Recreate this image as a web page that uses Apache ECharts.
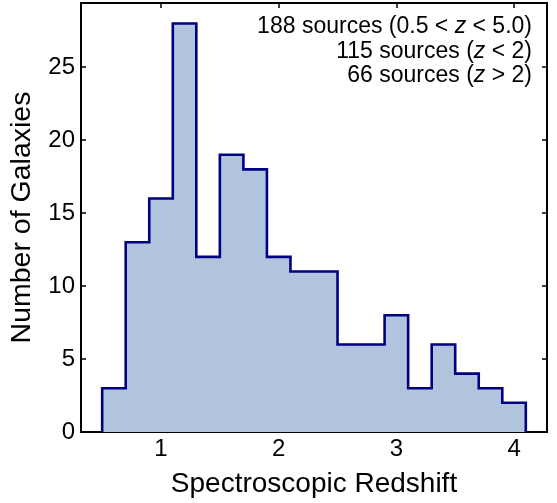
<!DOCTYPE html>
<html>
<head>
<meta charset="utf-8">
<script src="https://cdn.jsdelivr.net/npm/echarts@6/dist/echarts.min.js"></script>
<style>
  html, body { margin: 0; padding: 0; background: #fff; }
  #chart { width: 557px; height: 503px; }
</style>
</head>
<body>
<div id="chart"></div>
<script>
// Histogram bin edges (redshift) and counts per bin
var binEdges = [0.5, 0.7, 0.9, 1.1, 1.3, 1.5, 1.7, 1.9, 2.1, 2.3, 2.5, 2.7, 2.9, 3.1, 3.3, 3.5, 3.7, 3.9, 4.1];
var counts   = [3, 13, 16, 28, 12, 19, 18, 12, 11, 11, 6, 6, 8, 3, 6, 4, 3, 2];
var xTicks = [1, 2, 3, 4];
var yTicks = [0, 5, 10, 15, 20, 25];
var xRange = [0.32, 4.28];
var yRange = [0, 29.4];
var xTitle = 'Spectroscopic Redshift';
var yTitle = 'Number of Galaxies';
var noteLines = [
  '188 sources (0.5 < {i|z} < 5.0)',
  '115 sources ({i|z} < 2)',
  '66 sources ({i|z} > 2)'
];

// Build step outline points from bin edges/counts
var stepData = [[binEdges[0], 0]];
for (var i = 0; i < counts.length; i++) {
  stepData.push([binEdges[i], counts[i]]);
}
stepData.push([binEdges[binEdges.length - 1], counts[counts.length - 1]]);
stepData.push([binEdges[binEdges.length - 1], 0]);

var FONT = '"Liberation Sans", Arial, Helvetica, sans-serif';
var axisLineStyle = { color: '#000', width: 2 };
var tickCommon = { show: true, inside: true, length: 5, lineStyle: { color: '#000', width: 1.5 } };

var noteGraphics = noteLines.map(function (t, k) {
  return {
    type: 'text',
    x: 532,
    y: 27 + k * 24.5,
    z: 10,
    style: {
      text: t,
      fontFamily: FONT,
      fontSize: 23,
      fill: '#000',
      align: 'right',
      verticalAlign: 'middle',
      rich: {
        i: { fontFamily: FONT, fontSize: 23, fontStyle: 'italic', fill: '#000' }
      }
    }
  };
});

var chart = echarts.init(document.getElementById('chart'), null, { renderer: 'canvas' });
chart.setOption({
  animation: false,
  backgroundColor: '#fff',
  grid: { left: 81, right: 10, top: 3, bottom: 63, containLabel: false },
  xAxis: [{
    type: 'value', min: xRange[0], max: xRange[1], position: 'bottom',
    name: xTitle, nameLocation: 'middle', nameGap: 38,
    nameTextStyle: { fontFamily: FONT, fontSize: 28, color: '#000' },
    axisLine: { show: true, onZero: false, lineStyle: axisLineStyle },
    axisTick: Object.assign({ customValues: xTicks }, tickCommon),
    axisLabel: { customValues: xTicks, fontFamily: FONT, fontSize: 24, color: '#000', margin: 5 },
    splitLine: { show: false }
  }, {
    type: 'value', min: xRange[0], max: xRange[1], position: 'top',
    axisLine: { show: true, onZero: false, lineStyle: axisLineStyle },
    axisTick: Object.assign({ customValues: xTicks }, tickCommon),
    axisLabel: { show: false },
    splitLine: { show: false }
  }],
  yAxis: [{
    type: 'value', min: yRange[0], max: yRange[1], position: 'left',
    name: yTitle, nameLocation: 'middle', nameGap: 44,
    nameTextStyle: { fontFamily: FONT, fontSize: 28.5, color: '#000' },
    axisLine: { show: true, onZero: false, lineStyle: axisLineStyle },
    axisTick: Object.assign({ customValues: yTicks }, tickCommon),
    axisLabel: { customValues: yTicks, fontFamily: FONT, fontSize: 24, color: '#000', margin: 6 },
    splitLine: { show: false }
  }, {
    type: 'value', min: yRange[0], max: yRange[1], position: 'right',
    axisLine: { show: true, onZero: false, lineStyle: axisLineStyle },
    axisTick: Object.assign({ customValues: yTicks }, tickCommon),
    axisLabel: { show: false },
    splitLine: { show: false }
  }],
  series: [{
    type: 'line',
    xAxisIndex: 0, yAxisIndex: 0,
    step: 'end',
    data: stepData,
    showSymbol: false,
    symbol: 'none',
    lineStyle: { color: '#000080', width: 2.6, join: 'miter' },
    areaStyle: { color: '#B0C4DE', opacity: 1, origin: 'start' },
    z: 1
  }],
  graphic: noteGraphics
});
</script>
</body>
</html>
